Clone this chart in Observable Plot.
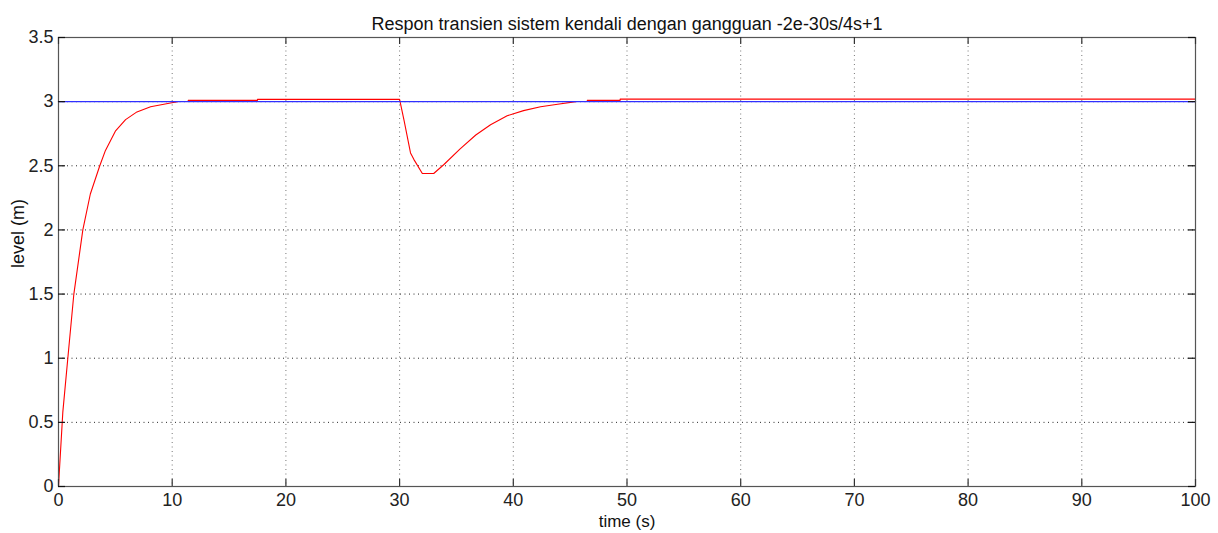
<!DOCTYPE html>
<html><head><meta charset="utf-8">
<script src="https://cdn.jsdelivr.net/npm/d3@7"></script>
<script src="https://cdn.jsdelivr.net/npm/@observablehq/plot@0.6"></script>
<style>body{margin:0;background:#fff}</style>
</head><body><div id="chart"></div>
<script>
const title = "Respon transien sistem kendali dengan gangguan -2e-30s/4s+1";
const xLabel = "time (s)";
const yLabel = "level (m)";
const xTicks = [0, 10, 20, 30, 40, 50, 60, 70, 80, 90, 100];
const yTicks = [0, 0.5, 1, 1.5, 2, 2.5, 3, 3.5];
const yTickLabels = ["0", "0.5", "1", "1.5", "2", "2.5", "3", "3.5"];

// red: process response (NaN = gap in the drawn line)
const responseTime  = [0, 0.09, 0.38, 0.82, 1.35, 2.14, 2.8, 3.63, 4.13, 5.0, 5.9, 6.9, 8.1, 9.85, 10.5, 11.0, 11.4, 17.5, 17.5, 30.0, 30.4, 30.96, 31.25, 32.0, 33.0, 33.9, 35.3, 36.7, 38.0, 39.46, 40.9, 42.4, 43.9, 45.5, 46.0, 46.5, 49.4, 49.4, 100];
const responseLevel = [0, 0.14, 0.58, 1.0, 1.5, 2.0, 2.28, 2.5, 2.62, 2.77, 2.86, 2.92, 2.96, 2.99, 3.0, NaN, 3.01, 3.01, 3.018, 3.018, 2.85, 2.6, 2.55, 2.44, 2.44, 2.51, 2.63, 2.74, 2.82, 2.89, 2.93, 2.96, 2.98, 3.0, NaN, 3.01, 3.01, 3.02, 3.02];
// blue: setpoint
const setpointTime  = [0, 100];
const setpointLevel = [3, 3];

const W = 1218, H = 533, mL = 58, mR = 23, mT = 37, mB = 47;
const pw = W - mL - mR, ph = H - mT - mB;
const tickLen = 7;
const font = "'Liberation Sans', Arial, Helvetica, sans-serif";

const response = responseTime.map((t, i) => ({t, v: responseLevel[i]}));
const setpoint = setpointTime.map((t, i) => ({t, v: setpointLevel[i]}));

const chart = Plot.plot({
  width: W, height: H,
  marginLeft: mL, marginRight: mR, marginTop: mT, marginBottom: mB,
  style: {fontFamily: font, fontSize: "18px", color: "#222", background: "#fff"},
  x: {domain: [0, 100], label: null},
  y: {domain: [0, 3.5], label: null},
  marks: [
    Plot.gridX(xTicks, {stroke: "#555", strokeOpacity: 0.8, strokeDasharray: "1,3.5"}),
    Plot.gridY(yTicks, {stroke: "#000", strokeOpacity: 0.85, strokeDasharray: "1,3.5"}),
    Plot.line(response, {x: "t", y: "v", stroke: "#ff0000", strokeWidth: 1.1}),
    Plot.line(setpoint, {x: "t", y: "v", stroke: "#3030ff", strokeWidth: 1.4}),
    Plot.frame({stroke: "#555", strokeWidth: 1.2}),
    Plot.tickX(xTicks, {x: d => d, insetTop: ph - tickLen, stroke: "#333", strokeWidth: 1.2}),
    Plot.tickX(xTicks, {x: d => d, insetBottom: ph - tickLen, stroke: "#333", strokeWidth: 1.2}),
    Plot.tickY(yTicks, {y: d => d, insetRight: pw - tickLen, stroke: "#111", strokeWidth: 1.2}),
    Plot.tickY(yTicks, {y: d => d, insetLeft: pw - tickLen, stroke: "#111", strokeWidth: 1.2}),
    Plot.axisX(xTicks, {tickSize: 0, tickPadding: 7, fontSize: 18, label: null, fill: "#222"}),
    Plot.axisY(yTicks, {tickSize: 0, tickPadding: 5, fontSize: 18, label: null, fill: "#222",
      tickFormat: d => yTickLabels[yTicks.indexOf(d)]}),
    Plot.text([title], {text: d => d, frameAnchor: "top", dy: -20, fontSize: 18, fill: "#111"}),
    Plot.text([xLabel], {text: d => d, frameAnchor: "bottom", dy: 40, fontSize: 17, fill: "#111"}),
    Plot.text([yLabel], {text: d => d, frameAnchor: "left", dx: -40, dy: 6, rotate: -90, fontSize: 18, fill: "#111"})
  ]
});
document.getElementById("chart").appendChild(chart);
</script>
</body></html>
